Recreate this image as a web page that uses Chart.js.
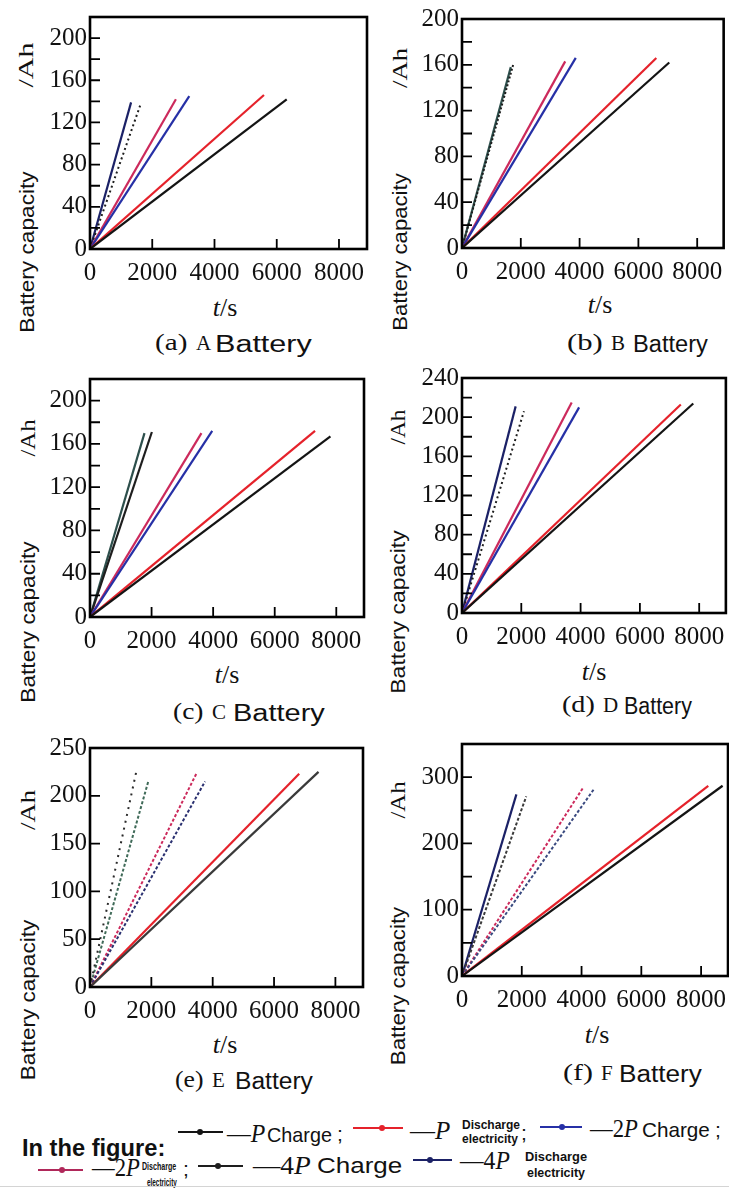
<!DOCTYPE html>
<html>
<head>
<meta charset="utf-8">
<script src="https://cdn.jsdelivr.net/npm/chart.js@4.4.1/dist/chart.umd.min.js"></script>
<style>
  html, body { margin: 0; padding: 0; background: #fff; }
  body { width: 729px; height: 1189px; position: relative; overflow: hidden; }
  canvas { position: absolute; }
  .t { position: absolute; white-space: nowrap; color: #111; line-height: 1; }
  .mk { position: absolute; }
</style>
</head>
<body>
<script>
// ---- data ----
const seriesNames = ['P Charge', 'P Discharge', '2P Charge', '2P Discharge', '4P Charge', '4P Discharge'];
const batteries = ['a', 'b', 'c', 'd', 'e', 'f'];

// time (s) at the end of each curve, one entry per series
const timeA = [6320, 5590, 3190, 2760, 1610, 1320];
const timeB = [7050, 6610, 3870, 3510, 1740, 1660];
const timeC = [7810, 7310, 3970, 3620, 2010, 1770];
const timeD = [7800, 7380, 3950, 3700, 2090, 1810];
const timeE = [7450, 6820, 3750, 3480, 1500, 1900];
const timeF = [8720, 8240, 4400, 4050, 2150, 1820];

// battery capacity (Ah) at the end of each curve
const capA = [142, 146, 145, 142, 136, 139];
const capB = [162, 166, 166, 163, 160, 158];
const capC = [167, 172, 172, 170, 171, 170];
const capD = [214, 213, 210, 215, 206, 211];
const capE = [225, 223, 215, 224, 224, 215];
const capF = [287, 287, 281, 284, 271, 274];

const xMax = 8900;
const xTicks = [0, 2000, 4000, 6000, 8000];
const yMax = [220, 200, 220, 240, 250, 350];
const yStep = [20, 20, 20, 20, 50, 50];
const yLabelStep = [40, 40, 40, 40, 50, 100];

const allTimes = [timeA, timeB, timeC, timeD, timeE, timeF];
const allCaps = [capA, capB, capC, capD, capE, capF];

// ---- layout / style ----
const SERIF = "'Liberation Serif', 'Times New Roman', serif";
const SANS = "'Liberation Sans', Arial, sans-serif";

// plot frame of each panel: left, top, right, bottom
const boxes = [
  [90, 13, 367, 249],
  [462, 15, 724, 248],
  [90, 375, 364, 617],
  [462, 374, 726, 613],
  [90, 744, 363, 987],
  [462, 740, 728, 976]
];

const colors = ['#141414', '#e5222b', '#2630a6', '#cc2a5c', '#1e1e1e', '#1b2166'];
const colorFix = [
  {},
  { 5: '#2d4f4c' },
  { 5: '#2d4f4c' },
  {},
  { 0: '#3a3a3a', 4: '#2a2a2a', 5: '#3f6a58', 2: '#2a3070' },
  { 4: '#3a3a3a', 2: '#3a4a80' }
];
const dashes = [
  [[], [], [], [], [2, 3], []],
  [[], [], [], [], [2, 2], []],
  [[], [], [], [], [], []],
  [[], [], [], [], [2, 3], []],
  [[], [], [3, 2], [3, 2], [2, 5], [3, 2]],
  [[], [], [3, 2], [3, 2], [3, 2], []]
];

// inward tick marks + box frame
const frameTicks = {
  id: 'frameTicks',
  afterDraw(chart) {
    const { ctx, chartArea: a, scales: { x, y } } = chart;
    ctx.save();
    ctx.strokeStyle = '#000';
    ctx.lineWidth = 1.8;
    ctx.beginPath();
    x.ticks.forEach(t => {
      if (t.value <= 0 || t.value >= x.max) return;
      const px = x.getPixelForValue(t.value);
      ctx.moveTo(px, a.bottom);
      ctx.lineTo(px, a.bottom - 10);
    });
    y.ticks.forEach(t => {
      if (t.value <= 0 || t.value >= y.max) return;
      const py = y.getPixelForValue(t.value);
      ctx.moveTo(a.left, py);
      ctx.lineTo(a.left + 10, py);
    });
    ctx.stroke();
    ctx.lineWidth = 2.6;
    ctx.strokeRect(a.left, a.top, a.width, a.height);
    ctx.restore();
  }
};

function drawCharts() {
  Chart.defaults.font.family = SERIF;
  Chart.defaults.font.size = 25;
  Chart.defaults.color = '#111';

  batteries.forEach((b, i) => {
    const [L, T, R, B] = boxes[i];
    const cv = document.createElement('canvas');
    cv.width = R - L + 68;
    cv.height = B - T + 54;
    cv.style.left = (L - 60) + 'px';
    cv.style.top = (T - 14) + 'px';
    document.body.appendChild(cv);

    const times = allTimes[i], caps = allCaps[i];
    new Chart(cv, {
      type: 'scatter',
      data: {
        datasets: seriesNames.map((name, k) => ({
          label: name,
          data: [{ x: 0, y: 0 }, { x: times[k], y: caps[k] }],
          showLine: true,
          borderColor: colorFix[i][k] || colors[k],
          borderWidth: dashes[i][k].length ? 2 : 2.2,
          borderDash: dashes[i][k],
          pointRadius: 0,
          fill: false
        }))
      },
      options: {
        responsive: false,
        animation: false,
        layout: { padding: { top: 14, right: 8, left: 0, bottom: 0 } },
        plugins: { legend: { display: false }, tooltip: { enabled: false } },
        scales: {
          x: {
            type: 'linear', min: 0, max: xMax,
            grid: { display: false, drawTicks: false },
            border: { display: false },
            afterBuildTicks(s) { s.ticks = xTicks.map(v => ({ value: v })); },
            ticks: {
              autoSkip: false, maxRotation: 0, padding: 9, color: '#111',
              font: { family: SERIF, size: 25 },
              callback: v => String(v)
            },
            afterFit(s) { s.height = 40; }
          },
          y: {
            type: 'linear', min: 0, max: yMax[i],
            grid: { display: false, drawTicks: false },
            border: { display: false },
            ticks: {
              stepSize: yStep[i], includeBounds: false, autoSkip: false,
              padding: 3, color: '#111', font: { family: SERIF, size: 25 },
              callback: v => (v % yLabelStep[i] === 0 ? String(v) : '')
            },
            afterFit(s) { s.width = 60; }
          }
        }
      },
      plugins: [frameTicks]
    });
  });
}

// ---- text helpers ----
function put(html, font, left, cy, width) {
  const el = document.createElement('div');
  el.className = 't';
  el.style.font = font;
  el.innerHTML = html;
  document.body.appendChild(el);
  const sx = width ? width / el.offsetWidth : 1;
  el.style.left = left + 'px';
  el.style.top = cy + 'px';
  el.style.transformOrigin = '0 0';
  el.style.transform = `scaleX(${sx}) translateY(-50%)`;
}
function putC(html, font, cx, cy) {
  const el = document.createElement('div');
  el.className = 't';
  el.style.font = font;
  el.innerHTML = html;
  document.body.appendChild(el);
  el.style.left = cx + 'px';
  el.style.top = cy + 'px';
  el.style.transform = 'translate(-50%,-50%)';
}
function putRot(html, font, cx, cy, len) {
  const el = document.createElement('div');
  el.className = 't';
  el.style.font = font;
  el.innerHTML = html;
  document.body.appendChild(el);
  const sx = len / el.offsetWidth;
  el.style.left = cx + 'px';
  el.style.top = cy + 'px';
  el.style.transform = `translate(-50%,-50%) rotate(-90deg) scaleX(${sx})`;
}
function marker(color, x1, x2, dotX, cy) {
  const ln = document.createElement('div');
  ln.className = 'mk';
  Object.assign(ln.style, { left: x1 + 'px', top: (cy - 1) + 'px', width: (x2 - x1) + 'px', height: '2px', background: color });
  document.body.appendChild(ln);
  const d = document.createElement('div');
  d.className = 'mk';
  Object.assign(d.style, { left: (dotX - 3) + 'px', top: (cy - 3) + 'px', width: '6px', height: '6px', borderRadius: '50%', background: color });
  document.body.appendChild(d);
}

// axis titles
const yTitle = [
  [27, 252, 161, 26, 65, 45],
  [400, 252, 157, 400, 68, 40],
  [28, 622, 161, 28, 438, 37],
  [398, 612, 163, 398, 427, 35],
  [28, 1000, 160, 28, 810, 40],
  [398, 986, 158, 398, 800, 37]
];
const xTitle = [[225, 308], [600, 305], [227, 675], [594, 672], [225, 1045], [597, 1035]];
// caption pieces: "(x)" left, letter left, "Battery" left, "Battery" right, centre y
const caption = [
  [155, 196, 215, 312, 343],
  [567, 611, 633, 708, 343],
  [173, 212, 233, 325, 712],
  [562, 603, 624, 692, 705],
  [175, 212, 235, 313, 1080],
  [563, 601, 619, 702, 1073]
];

batteries.forEach((b, i) => {
  const yt = yTitle[i];
  putRot('Battery capacity', `21px ${SANS}`, yt[0], yt[1], yt[2]);
  putRot('/Ah', `22px ${SERIF}`, yt[3], yt[4], yt[5]);
  const xt = xTitle[i];
  putC('<i>t</i>/s', `26px ${SERIF}`, xt[0], xt[1]);
  const c = caption[i];
  put(`(${b})`, `23px ${SERIF}`, c[0], c[4], c[1] - c[0] - 8);
  put(b.toUpperCase(), `21px ${SERIF}`, c[1], c[4]);
  put('Battery', `23px ${SANS}`, c[2], c[4] + 1, c[3] - c[2]);
});

// legend
const SER25 = `25px ${SERIF}`;
put('In the figure:', `bold 23px ${SANS}`, 22, 1148, 143);
marker(colors[0], 178, 223, 200, 1132);
put('—<i>P</i>', SER25, 227, 1134, 38);
put('Charge', `21px ${SANS}`, 267, 1135, 65);
put(';', `21px ${SANS}`, 337, 1134);
marker(colors[1], 353, 403, 382, 1128);
put('—<i>P</i>', SER25, 410, 1131, 40);
put('Discharge', `bold 12px ${SANS}`, 462, 1125, 58);
put('electricity', `bold 12px ${SANS}`, 462, 1139, 56);
put(';', `21px ${SANS}`, 521, 1133);
marker(colors[2], 540, 582, 562, 1127);
put('—2<i>P</i>', SER25, 590, 1129, 48);
put('Charge', `21px ${SANS}`, 642, 1130, 68);
put(';', `21px ${SANS}`, 715, 1130);

marker('#b0285a', 38, 83, 62, 1170);
put('—2<i>P</i>', SER25, 92, 1168, 48);
put('Discharge', `bold 10px ${SANS}`, 142, 1166, 34);
put('electricity', `bold 10px ${SANS}`, 147, 1182, 30);
put(';', `21px ${SANS}`, 183, 1169);
marker(colors[4], 198, 243, 218, 1166);
put('—4<i>P</i>', SER25, 253, 1166, 58);
put('Charge', `22px ${SANS}`, 317, 1166, 85);
marker(colors[5], 413, 452, 430, 1160);
put('—4<i>P</i>', SER25, 460, 1161, 50);
put('Discharge', `bold 12px ${SANS}`, 525, 1157, 62);
put('electricity', `bold 12px ${SANS}`, 527, 1173, 58);

const rule = document.createElement('div');
Object.assign(rule.style, { position: 'absolute', left: '0', top: '1186px', width: '729px', height: '1px', background: '#d4d4d4' });
document.body.appendChild(rule);

// draw the charts once the serif face is ready for canvas use
if (document.fonts && document.fonts.load) {
  document.fonts.load("25px 'Liberation Serif'").then(drawCharts, drawCharts);
} else {
  drawCharts();
}
</script>
</body>
</html>
